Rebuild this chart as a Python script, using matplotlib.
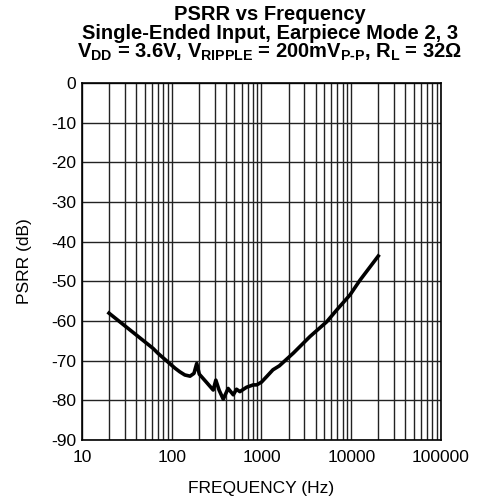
import matplotlib
matplotlib.use("Agg")
import matplotlib.pyplot as plt
import matplotlib.ticker as mticker
import numpy as np

plt.rcParams["font.family"] = ["Liberation Sans", "DejaVu Sans"]
plt.rcParams["axes.unicode_minus"] = False
plt.rcParams["mathtext.fontset"] = "custom"
plt.rcParams["mathtext.rm"] = "Liberation Sans:bold"
plt.rcParams["mathtext.it"] = "Liberation Sans:bold"
plt.rcParams["mathtext.bf"] = "Liberation Sans:bold"

# PSRR curve
freq_hz = [20, 62, 70, 109, 123, 140, 160, 177, 190, 203, 245, 290, 310, 337,
           375, 425, 485, 527, 574, 682, 810, 885, 1000, 1143, 1340, 1580,
           2260, 3470, 5320, 6890, 9690, 12500, 16000, 20000]
psrr_db = [-58.0, -66.9, -68.1, -71.9, -72.8, -73.6, -73.9, -73.2, -70.7, -73.4,
           -75.5, -77.4, -74.9, -77.4, -79.7, -77.0, -78.6, -77.2, -77.8, -76.7,
           -76.1, -76.1, -75.4, -74.0, -72.3, -71.3, -68.1, -63.9, -60.2, -57.2,
           -53.4, -49.7, -46.5, -43.6]

x_ticks = [10, 100, 1000, 10000, 100000]
x_ticklabels = ["10", "100", "1000", "10000", "100000"]
y_ticks = list(range(-90, 1, 10))

title_lines = [
    "PSRR vs Frequency",
    "Single-Ended Input, Earpiece Mode 2, 3",
    r"$\mathrm{V_{DD}}$ = 3.6V, $\mathrm{V_{RIPPLE}}$ = 200m$\mathrm{V_{P\text{-}P}}$, $\mathrm{R_L}$ = 32Ω",
]

fig = plt.figure(figsize=(4.82, 5.04), dpi=100)
ax = fig.add_axes([0.170, 0.127, 0.745, 0.708])

ax.plot(freq_hz, psrr_db, color="black", linewidth=2.6, solid_joinstyle="round")

ax.set_xscale("log")
ax.set_xlim(10, 100000)
ax.set_ylim(-90, 0)
ax.set_xticks(x_ticks)
ax.set_xticklabels(x_ticklabels)
ax.xaxis.set_minor_locator(mticker.LogLocator(base=10, subs=np.arange(2, 10)))
ax.xaxis.set_minor_formatter(mticker.NullFormatter())
ax.set_yticks(y_ticks)

ax.grid(which="major", color="#222222", linewidth=1.0)
ax.grid(which="minor", axis="x", color="#222222", linewidth=1.0)
ax.set_axisbelow(True)
for s in ax.spines.values():
    s.set_linewidth(1.2)
ax.tick_params(which="both", length=0, labelsize=12.5)
ax.tick_params(axis="x", pad=7)
ax.tick_params(axis="y", pad=4)

ax.set_xlabel("FREQUENCY (Hz)", fontsize=12.5, labelpad=12)
ax.set_ylabel("PSRR (dB)", fontsize=12.5, labelpad=14)

fig.text(0.560, 0.932, "\n".join(title_lines), ha="center", va="center",
         multialignment="center", fontsize=14.5, fontweight="bold",
         linespacing=0.95)

fig.savefig("out.png", dpi=100)
